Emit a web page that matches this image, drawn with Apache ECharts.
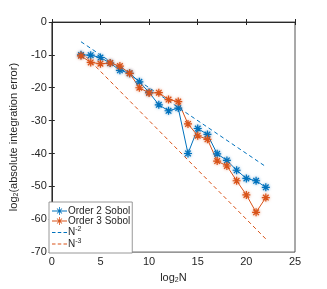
<!DOCTYPE html>
<html><head><meta charset="utf-8">
<script src="https://cdn.jsdelivr.net/npm/echarts@6/dist/echarts.min.js"></script>
<style>html,body{margin:0;padding:0;background:#fff}#c{width:327px;height:289px}</style>
</head><body><div id="c"></div>
<script>
const log2N = [3,4,5,6,7,8,9,10,11,12,13,14,15,16,17,18,19,20,21,22];
const order2 = [-10,-10.1,-10.8,-12.5,-14.7,-15.6,-18.2,-21.4,-25.2,-27,-26.2,-40,-32.4,-34.2,-40.1,-42.1,-45.1,-47.6,-48.3,-50.3];
const order3 = [-10.3,-12.3,-12.7,-12.5,-13.4,-15.6,-20,-21.6,-21.5,-23.6,-24.2,-31,-34.6,-35.7,-42.3,-43.8,-48.3,-52.6,-57.9,-53.4];
const refX = [3,22];
const refN2 = [-6,-44];
const refN3 = [-9,-66];

const BLUE = '#0072BD', ORANGE = '#D95319', TXT = '#262626';
const star = 'path://M0 5 L10 5 M5 0 L5 10 M1.5 1.5 L8.5 8.5 M8.5 1.5 L1.5 8.5';
// legend icons (filled shapes, 15x8 box)
const rect = (x0,y0,x1,y1) => `M${x0} ${y0}L${x1} ${y0}L${x1} ${y1}L${x0} ${y1}Z`;
const iconStar = 'path://' + rect(0,3.6,15,4.4) + rect(7.1,0,7.9,8) + rect(4,3.6,11,4.4) +
  'M5.28 1.22L10.28 6.22L9.72 6.78L4.72 1.78Z' + 'M10.28 1.78L5.28 6.78L4.72 6.22L9.72 1.22Z';
const iconDash = 'path://M0 0M15 8' + rect(0,3.6,3.5,4.4) + rect(5.75,3.6,9.25,4.4) + rect(11.5,3.6,15,4.4);
const pts = (xs, ys) => xs.map((x,i)=>[x, ys[i]]);
const chart = echarts.init(document.getElementById('c'));
const font = 'Liberation Sans, Arial, sans-serif';
const legendNames = {
  'Order 2 Sobol': 'Order 2 Sobol', 'Order 3 Sobol': 'Order 3 Sobol',
  'N2': '{b|N}{s|-2}', 'N3': '{b|N}{s|-3}'
};
const axisCommon = {
  axisLine: {show: true, lineStyle: {color: TXT, width: 0.8}},
  axisTick: {inside: true, length: 3, lineStyle: {color: TXT}},
  splitLine: {show: false}
};
chart.setOption({
  animation: false,
  textStyle: {fontFamily: font},
  grid: {left: 42, right: 32, top: 22, bottom: 32, show: true, borderColor: TXT, borderWidth: 0.8},
  xAxis: [Object.assign({
    type: 'value', min: 0, max: 25, interval: 5,
    axisLabel: {color: TXT, fontSize: 11, margin: 4},
    name: '{b|log}{s|2}{b|N}', nameLocation: 'middle', nameGap: 12,
    nameTextStyle: {rich: {b: {fontSize: 11, color: TXT}, s: {fontSize: 7, color: TXT, padding: [6,0,0,0]}}}
  }, axisCommon), Object.assign({
    type: 'value', min: 0, max: 25, interval: 5, position: 'top', axisLabel: {show: false}
  }, axisCommon)],
  yAxis: [Object.assign({
    type: 'value', min: -70, max: 0, interval: 10,
    axisLabel: {color: TXT, fontSize: 11, margin: 5},
    name: '{b|log}{s|2}{b|(absolute integration error)}', nameLocation: 'middle', nameGap: 26,
    nameTextStyle: {rich: {b: {fontSize: 11, color: TXT}, s: {fontSize: 7, color: TXT, padding: [6,0,0,0]}}}
  }, axisCommon), Object.assign({
    type: 'value', min: -70, max: 0, interval: 10, position: 'right', axisLabel: {show: false}
  }, axisCommon)],
  legend: {
    left: 49, top: 202, orient: 'vertical', itemGap: 0, itemWidth: 15, itemHeight: 8,
    backgroundColor: '#fff', borderColor: '#7f7f7f', borderWidth: 0.8, padding: [4,2,4,3],
    itemStyle: {borderWidth: 0, shadowBlur: 0, shadowColor: 'transparent'},
    textStyle: {fontSize: 10, color: TXT, padding: [0,0,0,-4],
      rich: {b: {fontSize: 10, color: TXT}, s: {fontSize: 7, color: TXT, padding: [0,0,6,0]}}},
    formatter: n => legendNames[n],
    data: [{name: 'Order 2 Sobol', icon: iconStar}, {name: 'Order 3 Sobol', icon: iconStar},
           {name: 'N2', icon: iconDash}, {name: 'N3', icon: iconDash}]
  },
  series: [
    {name: 'Order 2 Sobol', type: 'line', data: pts(log2N, order2), symbol: star, symbolSize: 8,
     lineStyle: {color: BLUE, width: 1},
     itemStyle: {color: BLUE, borderColor: BLUE, borderWidth: 1.2, shadowBlur: 3, shadowColor: 'rgba(0,114,189,0.6)'}},
    {name: 'Order 3 Sobol', type: 'line', data: pts(log2N, order3), symbol: star, symbolSize: 8,
     lineStyle: {color: ORANGE, width: 1},
     itemStyle: {color: ORANGE, borderColor: ORANGE, borderWidth: 1.2, shadowBlur: 3, shadowColor: 'rgba(217,83,25,0.6)'}},
    {name: 'N2', type: 'line', data: pts(refX, refN2), symbol: 'none',
     lineStyle: {color: BLUE, width: 1, type: [4,3]}, itemStyle: {color: BLUE}},
    {name: 'N3', type: 'line', data: pts(refX, refN3), symbol: 'none',
     lineStyle: {color: ORANGE, width: 1, type: [4,3]}, itemStyle: {color: ORANGE}}
  ]
});
</script></body></html>
